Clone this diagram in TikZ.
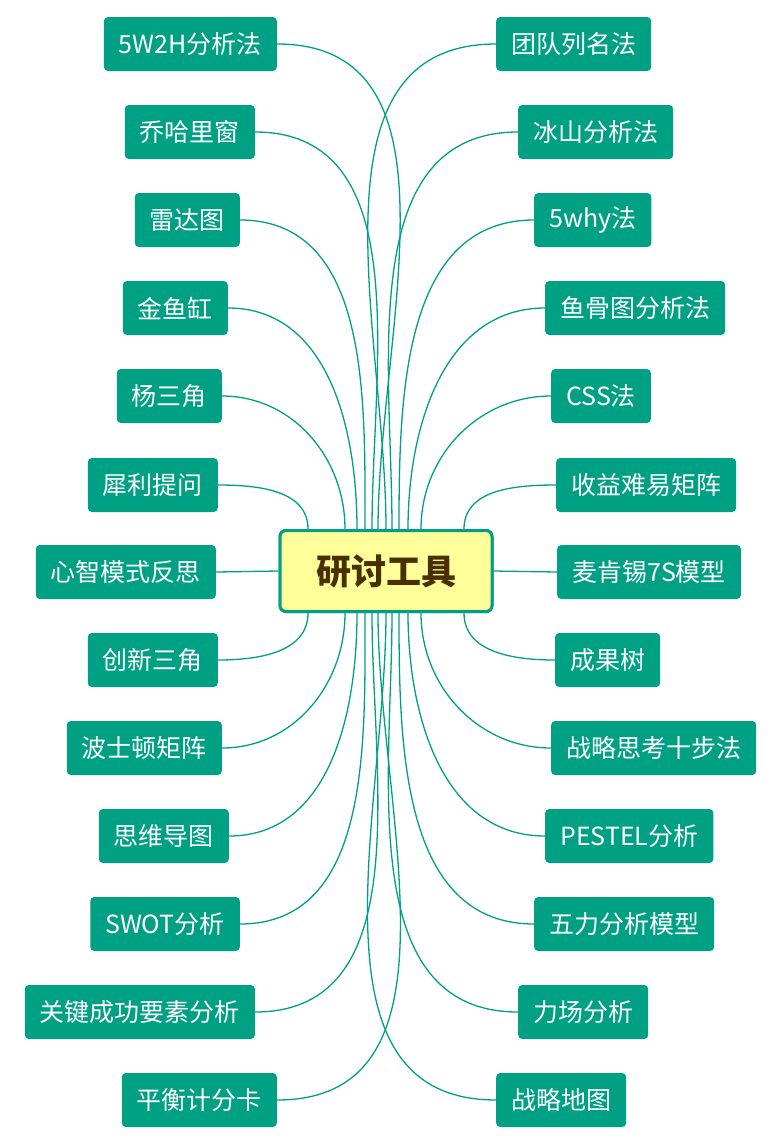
\documentclass[tikz,border=0pt]{standalone}
\usepackage{fontspec}
\setmainfont{Noto Sans CJK SC}
\usetikzlibrary{calc}
\definecolor{teal1}{HTML}{00A085}
\definecolor{cfill}{HTML}{FFFF99}
\definecolor{ctext}{HTML}{4A3000}
\begin{document}
\begin{tikzpicture}[x=1pt,y=1pt,
 leaf/.style={fill=teal1,text=white,rounded corners=4pt,minimum height=54pt,inner xsep=15pt,font=\fontsize{25}{28}\selectfont},
 link/.style={draw=teal1,line width=1.3pt},
 center/.style={fill=cfill,draw=teal1,line width=3pt,rounded corners=6pt,minimum width=212pt,minimum height=81pt,text=ctext,font=\fontsize{35}{40}\selectfont\bfseries}]
\useasboundingbox (0,0) rectangle (781,-1144);
\node[center] (c) at (386,-571) {研讨工具};
% left
\node[leaf,anchor=east] (L1) at (277,-44) {5W2H分析法};
\node[leaf,anchor=east] (L2) at (255,-132) {乔哈里窗};
\node[leaf,anchor=east] (L3) at (240,-220) {雷达图};
\node[leaf,anchor=east] (L4) at (228,-308) {金鱼缸};
\node[leaf,anchor=east] (L5) at (222,-396) {杨三角};
\node[leaf,anchor=east] (L6) at (218,-485) {犀利提问};
\node[leaf,anchor=east] (L7) at (216,-572) {心智模式反思};
\node[leaf,anchor=east] (L8) at (218,-660) {创新三角};
\node[leaf,anchor=east] (L9) at (222,-748) {波士顿矩阵};
\node[leaf,anchor=east] (L10) at (229,-836) {思维导图};
\node[leaf,anchor=east] (L11) at (240,-924) {SWOT分析};
\node[leaf,anchor=east] (L12) at (255,-1012) {关键成功要素分析};
\node[leaf,anchor=east] (L13) at (277,-1100) {平衡计分卡};
% right
\node[leaf,anchor=west] (R1) at (496,-44) {团队列名法};
\node[leaf,anchor=west] (R2) at (518,-132) {冰山分析法};
\node[leaf,anchor=west] (R3) at (534,-220) {5why法};
\node[leaf,anchor=west] (R4) at (545,-308) {鱼骨图分析法};
\node[leaf,anchor=west] (R5) at (551,-396) {CSS法};
\node[leaf,anchor=west] (R6) at (556,-485) {收益难易矩阵};
\node[leaf,anchor=west] (R7) at (557,-572) {麦肯锡7S模型};
\node[leaf,anchor=west] (R8) at (555,-660) {成果树};
\node[leaf,anchor=west] (R9) at (551,-748) {战略思考十步法};
\node[leaf,anchor=west] (R10) at (545,-836) {PESTEL分析};
\node[leaf,anchor=west] (R11) at (534,-924) {五力分析模型};
\node[leaf,anchor=west] (R12) at (518,-1012) {力场分析};
\node[leaf,anchor=west] (R13) at (496,-1100) {战略地图};
\foreach \n/\d in {L1/-8,L2/-14,L3/-21,L4/-29,L5/-41,L6/-78}
  \draw[link] (\n.east) to[out=0,in=90] ($(c.north)+(\d,0)$);
\foreach \n/\d in {L8/-78,L9/-41,L10/-29,L11/-21,L12/-14,L13/-8}
  \draw[link] (\n.east) to[out=0,in=-90] ($(c.south)+(\d,0)$);
\foreach \n/\d in {R1/0,R2/6,R3/13,R4/22,R5/35,R6/78}
  \draw[link] (\n.west) to[out=180,in=90] ($(c.north)+(\d,0)$);
\foreach \n/\d in {R8/78,R9/35,R10/22,R11/13,R12/6,R13/0}
  \draw[link] (\n.west) to[out=180,in=-90] ($(c.south)+(\d,0)$);
\draw[link] (L7.east) -- (c.west);
\draw[link] (R7.west) -- (c.east);
\node[center] at (386,-571) {研讨工具};
\end{tikzpicture}
\end{document}
